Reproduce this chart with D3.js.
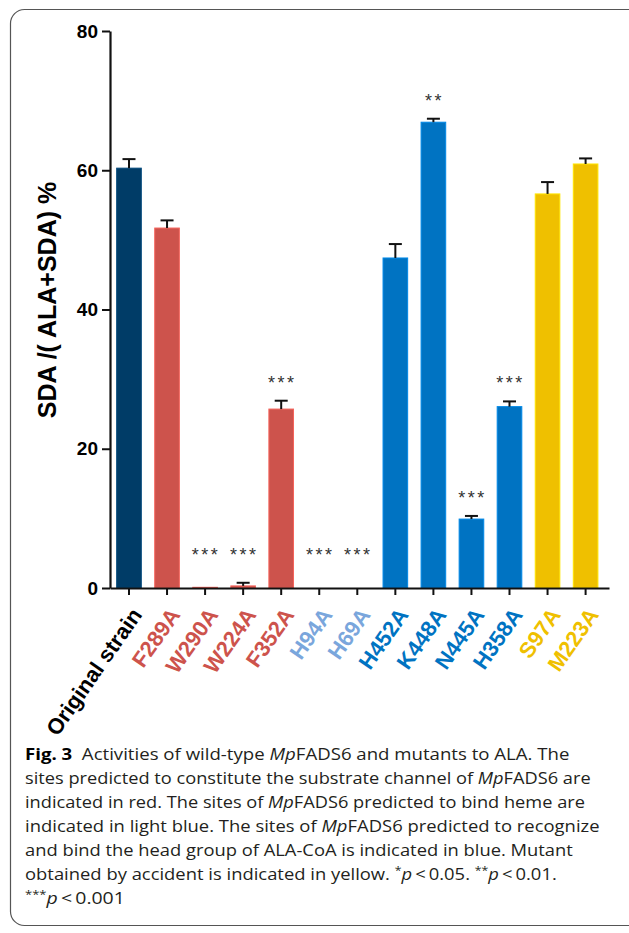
<!DOCTYPE html>
<html>
<head>
<meta charset="utf-8">
<script src="https://cdn.jsdelivr.net/npm/d3@7"></script>
<style>
  body { margin: 0; background: #fff; }
  svg { display: block; }
</style>
</head>
<body>
<div id="chart"></div>
<script>
// data
const categories = ["Original strain", "F289A", "W290A", "W224A", "F352A", "H94A", "H69A",
                    "H452A", "K448A", "N445A", "H358A", "S97A", "M223A"];
const means  = [60.3, 51.7, 0.1, 0.3, 25.7, 0, 0, 47.4, 66.9, 9.9, 26.05, 56.6, 60.9];
const errors = [1.3, 1.1, 0, 0.45, 1.2, 0, 0, 2.0, 0.5, 0.45, 0.75, 1.7, 0.8];
const groups = ["wt", "channel", "channel", "channel", "channel", "heme", "heme",
                "head", "head", "head", "head", "accident", "accident"];
const stars  = ["", "", "***", "***", "***", "***", "***", "", "**", "***", "***", "", ""];
const yTicks = [0, 20, 40, 60, 80];
const yLabel = "SDA /( ALA+SDA) %";

// caption lines: [text, style] pieces  (b = bold, i = italic, s = superscript)
const captionLines = [
  [["Fig. 3", "b"], ["\u00a0\u00a0Activities of wild-type ", ""], ["Mp", "i"], ["FADS6 and mutants to ALA. The", ""]],
  [["sites predicted to constitute the substrate channel of ", ""], ["Mp", "i"], ["FADS6 are", ""]],
  [["indicated in red. The sites of ", ""], ["Mp", "i"], ["FADS6 predicted to bind heme are", ""]],
  [["indicated in light blue. The sites of ", ""], ["Mp", "i"], ["FADS6 predicted to recognize", ""]],
  [["and bind the head group of ALA-CoA is indicated in blue. Mutant", ""]],
  [["obtained by accident is indicated in yellow. ", ""], ["*", "s"], ["p", "i"], ["\u2009<\u20090.05. ", ""],
   ["**", "s"], ["p", "i"], ["\u2009<\u20090.01.", ""]],
  [["***", "s"], ["p", "i"], ["\u2009<\u20090.001", ""]]
];
const captionEnds = [570, 591, 585, 600, 573, 557, 125];

const barColor = {wt: "#003C67", channel: "#CD534C", heme: "#7AA6DC", head: "#0073C2", accident: "#EFC000"};
const labelColor = {wt: "#000", channel: "#CD534C", heme: "#7AA6DC", head: "#0073C2", accident: "#EFC000"};

const W = 629, H = 933;
const svg = d3.select("#chart").append("svg")
    .attr("width", W)
    .attr("height", H);

// rounded frame round the figure
svg.append("rect")
    .attr("x", 10.5).attr("y", 9.5)
    .attr("width", 640).attr("height", 916)
    .attr("rx", 14)
    .attr("fill", "none")
    .attr("stroke", "#555")
    .attr("stroke-width", 1.2);

const x = d3.scaleBand()
    .domain(categories)
    .range([110, 609])
    .paddingInner(0.353)
    .paddingOuter(0.2335)
    .align(0.376);

const y = d3.scaleLinear().domain([0, 80]).range([588, 31]);

const data = categories.map((c, i) => ({name: c, mean: means[i], err: errors[i], group: groups[i], sig: stars[i]}));

// bars
svg.append("g").selectAll("rect")
  .data(data)
  .join("rect")
    .attr("x", d => x(d.name))
    .attr("width", x.bandwidth())
    .attr("y", d => y(d.mean))
    .attr("height", d => y(0) - y(d.mean))
    .attr("fill", d => barColor[d.group])
    .attr("stroke", d => d3.color(barColor[d.group]).brighter(0.5))
    .attr("stroke-width", 1);

// error bars (upper only)
const eb = svg.append("g")
    .attr("stroke", "#111")
    .attr("stroke-width", 2)
  .selectAll("g")
  .data(data.filter(d => d.err > 0))
  .join("g");

eb.append("line")
    .attr("x1", d => x(d.name) + x.bandwidth() / 2)
    .attr("x2", d => x(d.name) + x.bandwidth() / 2)
    .attr("y1", d => y(d.mean))
    .attr("y2", d => y(d.mean + d.err));

eb.append("line")
    .attr("x1", d => x(d.name) + x.bandwidth() / 2 - 6.5)
    .attr("x2", d => x(d.name) + x.bandwidth() / 2 + 6.5)
    .attr("y1", d => y(d.mean + d.err))
    .attr("y2", d => y(d.mean + d.err));

// significance stars
svg.append("g").selectAll("text")
  .data(data.filter(d => d.sig))
  .join("text")
    .attr("x", d => x(d.name) + x.bandwidth() / 2 + 1)
    .attr("y", d => y(Math.max(d.mean + d.err, 2.2)) - 22 + 10)
    .attr("text-anchor", "middle")
    .style("font-family", "'Liberation Sans', Arial, sans-serif")
    .style("font-size", "18px")
    .style("letter-spacing", "2.5px")
    .attr("fill", "#333")
    .text(d => d.sig);

// y axis
const yAxis = svg.append("g")
    .attr("transform", "translate(110,0)")
    .call(d3.axisLeft(y).tickValues(yTicks).tickSize(8).tickSizeOuter(0).tickPadding(4));

// x axis
const xAxis = svg.append("g")
    .attr("transform", `translate(0,${y(0)})`)
    .call(d3.axisBottom(x).tickSize(7).tickSizeOuter(0));

[yAxis, xAxis].forEach(g => {
  g.select(".domain").attr("stroke", "#111").attr("stroke-width", 2.2);
  g.selectAll(".tick line").attr("stroke", "#111").attr("stroke-width", 2);
});

yAxis.selectAll("text")
    .style("font-family", "'Liberation Sans', Arial, sans-serif")
    .style("font-size", "19px")
    .style("font-weight", "bold")
    .attr("fill", "#000");

xAxis.selectAll(".tick text")
    .attr("x", 0).attr("y", 0).attr("dy", 0)
    .attr("transform", "translate(14,27) rotate(-55)")
    .attr("text-anchor", "end")
    .style("font-family", "'Liberation Sans', Arial, sans-serif")
    .style("font-size", "22px")
    .style("font-weight", "bold")
    .attr("fill", (d, i) => labelColor[groups[i]]);

// y axis title
svg.append("text")
    .attr("transform", "translate(56,300) rotate(-90)")
    .attr("text-anchor", "middle")
    .style("font-family", "'Liberation Sans', Arial, sans-serif")
    .style("font-size", "25px")
    .style("font-weight", "bold")
    .attr("fill", "#000")
    .text(yLabel);

// caption
const cap = svg.append("g");
captionLines.forEach((line, li) => {
  const t = cap.append("text")
      .attr("transform", `translate(25,${760 + li * 24})`)
      .style("font-family", "'Open Sans', sans-serif")
      .style("font-size", "16.5px")
      .attr("fill", "#231f20");
  let raised = false;
  line.forEach(([txt, st]) => {
    const s = t.append("tspan").text(txt);
    if (st === "b") s.style("font-weight", "bold").attr("fill", "#000");
    if (st === "i") s.style("font-style", "italic");
    if (st === "s") { s.style("font-size", "11px").attr("dy", -6); raised = true; }
    else if (raised) { s.attr("dy", 6); raised = false; }
  });
  const w = t.node().getComputedTextLength();
  const sx = (captionEnds[li] - 25) / w;
  t.attr("transform", `translate(25,${760 + li * 24}) scale(${sx},1)`);
});
</script>
</body>
</html>
